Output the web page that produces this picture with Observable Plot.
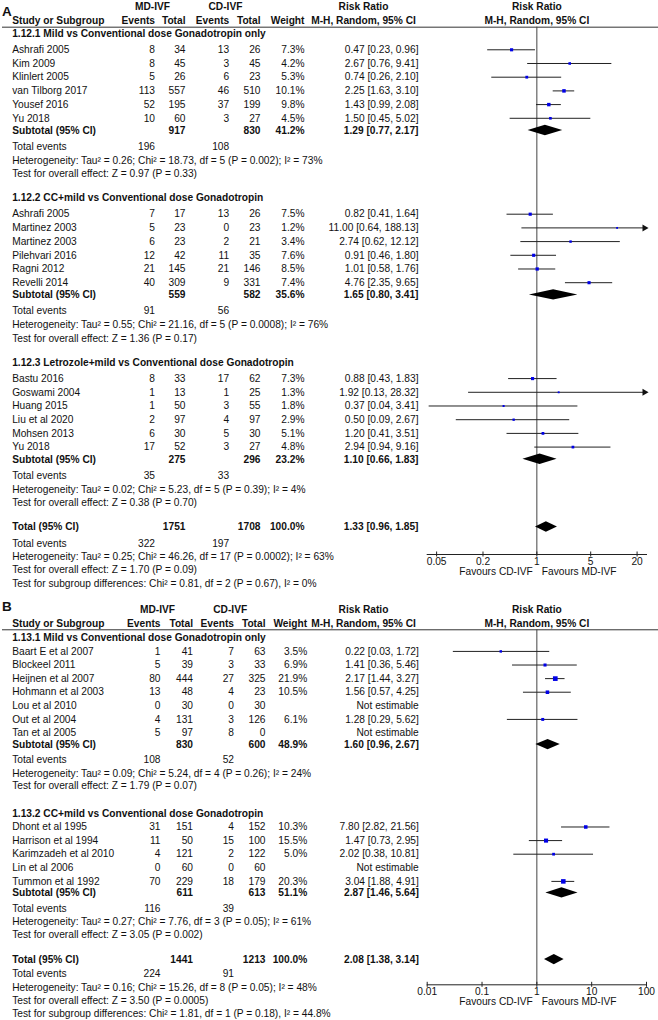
<!DOCTYPE html>
<html>
<head>
<meta charset="utf-8">
<script src="https://cdn.jsdelivr.net/npm/d3@7"></script>
<script src="https://cdn.jsdelivr.net/npm/@observablehq/plot@0.6"></script>
<style>
  html, body { margin: 0; padding: 0; background: #fff; }
  #chart { width: 658px; }
  #chart svg { display: block; }
</style>
</head>
<body>
<div id="chart"></div>
<script>
// ---------------- DATA ----------------
// Panel A
const titlesA = [
  "1.12.1 Mild vs Conventional dose Gonadotropin only",
  "1.12.2 CC+mild vs Conventional dose Gonadotropin",
  "1.12.3 Letrozole+mild vs Conventional dose Gonadotropin"
];
const studiesA1 = [
  {study: "Ashrafi 2005", mdE: 8, mdT: 34, cdE: 13, cdT: 26, w: 7.3, rr: 0.47, lo: 0.23, hi: 0.96},
  {study: "Kim 2009", mdE: 8, mdT: 45, cdE: 3, cdT: 45, w: 4.2, rr: 2.67, lo: 0.76, hi: 9.41},
  {study: "Klinlert 2005", mdE: 5, mdT: 26, cdE: 6, cdT: 23, w: 5.3, rr: 0.74, lo: 0.26, hi: 2.10},
  {study: "van Tilborg 2017", mdE: 113, mdT: 557, cdE: 46, cdT: 510, w: 10.1, rr: 2.25, lo: 1.63, hi: 3.10},
  {study: "Yousef 2016", mdE: 52, mdT: 195, cdE: 37, cdT: 199, w: 9.8, rr: 1.43, lo: 0.99, hi: 2.08},
  {study: "Yu 2018", mdE: 10, mdT: 60, cdE: 3, cdT: 27, w: 4.5, rr: 1.50, lo: 0.45, hi: 5.02}
];
const studiesA2 = [
  {study: "Ashrafi 2005", mdE: 7, mdT: 17, cdE: 13, cdT: 26, w: 7.5, rr: 0.82, lo: 0.41, hi: 1.64},
  {study: "Martinez 2003", mdE: 5, mdT: 23, cdE: 0, cdT: 23, w: 1.2, rr: 11.00, lo: 0.64, hi: 188.13},
  {study: "Martinez 2003", mdE: 6, mdT: 23, cdE: 2, cdT: 21, w: 3.4, rr: 2.74, lo: 0.62, hi: 12.12},
  {study: "Pilehvari 2016", mdE: 12, mdT: 42, cdE: 11, cdT: 35, w: 7.6, rr: 0.91, lo: 0.46, hi: 1.80},
  {study: "Ragni 2012", mdE: 21, mdT: 145, cdE: 21, cdT: 146, w: 8.5, rr: 1.01, lo: 0.58, hi: 1.76},
  {study: "Revelli 2014", mdE: 40, mdT: 309, cdE: 9, cdT: 331, w: 7.4, rr: 4.76, lo: 2.35, hi: 9.65}
];
const studiesA3 = [
  {study: "Bastu 2016", mdE: 8, mdT: 33, cdE: 17, cdT: 62, w: 7.3, rr: 0.88, lo: 0.43, hi: 1.83},
  {study: "Goswami 2004", mdE: 1, mdT: 13, cdE: 1, cdT: 25, w: 1.3, rr: 1.92, lo: 0.13, hi: 28.32},
  {study: "Huang 2015", mdE: 1, mdT: 50, cdE: 3, cdT: 55, w: 1.8, rr: 0.37, lo: 0.04, hi: 3.41},
  {study: "Liu et al 2020", mdE: 2, mdT: 97, cdE: 4, cdT: 97, w: 2.9, rr: 0.50, lo: 0.09, hi: 2.67},
  {study: "Mohsen 2013", mdE: 6, mdT: 30, cdE: 5, cdT: 30, w: 5.1, rr: 1.20, lo: 0.41, hi: 3.51},
  {study: "Yu 2018", mdE: 17, mdT: 52, cdE: 3, cdT: 27, w: 4.8, rr: 2.94, lo: 0.94, hi: 9.16}
];
const subtotalsA = [
  {mdT: 917, cdT: 830, w: 41.2, rr: 1.29, lo: 0.77, hi: 2.17},
  {mdT: 559, cdT: 582, w: 35.6, rr: 1.65, lo: 0.80, hi: 3.41},
  {mdT: 275, cdT: 296, w: 23.2, rr: 1.10, lo: 0.66, hi: 1.83}
];
const eventsA = [[196, 108], [91, 56], [35, 33]];
const heterogeneityA = [
  "Heterogeneity: Tau² = 0.26; Chi² = 18.73, df = 5 (P = 0.002); I² = 73%",
  "Heterogeneity: Tau² = 0.55; Chi² = 21.16, df = 5 (P = 0.0008); I² = 76%",
  "Heterogeneity: Tau² = 0.02; Chi² = 5.23, df = 5 (P = 0.39); I² = 4%"
];
const effectA = [
  "Test for overall effect: Z = 0.97 (P = 0.33)",
  "Test for overall effect: Z = 1.36 (P = 0.17)",
  "Test for overall effect: Z = 0.38 (P = 0.70)"
];
const totalA = {mdT: 1751, cdT: 1708, w: 100.0, rr: 1.33, lo: 0.96, hi: 1.85};
const totalEventsA = [322, 197];
const totalTextsA = [
  "Heterogeneity: Tau² = 0.25; Chi² = 46.26, df = 17 (P = 0.0002); I² = 63%",
  "Test for overall effect: Z = 1.70 (P = 0.09)",
  "Test for subgroup differences: Chi² = 0.81, df = 2 (P = 0.67), I² = 0%"
];
const ticksA = [0.05, 0.2, 1, 5, 20];

// Panel B
const titlesB = [
  "1.13.1 Mild vs Conventional dose Gonadotropin only",
  "1.13.2 CC+mild vs Conventional dose Gonadotropin"
];
const studiesB1 = [
  {study: "Baart E et al 2007", mdE: 1, mdT: 41, cdE: 7, cdT: 63, w: 3.5, rr: 0.22, lo: 0.03, hi: 1.72},
  {study: "Blockeel 2011", mdE: 5, mdT: 39, cdE: 3, cdT: 33, w: 6.9, rr: 1.41, lo: 0.36, hi: 5.46},
  {study: "Heijnen et al 2007", mdE: 80, mdT: 444, cdE: 27, cdT: 325, w: 21.9, rr: 2.17, lo: 1.44, hi: 3.27},
  {study: "Hohmann et al 2003", mdE: 13, mdT: 48, cdE: 4, cdT: 23, w: 10.5, rr: 1.56, lo: 0.57, hi: 4.25},
  {study: "Lou et al 2010", mdE: 0, mdT: 30, cdE: 0, cdT: 30, w: null, rr: null, lo: null, hi: null},
  {study: "Out et al 2004", mdE: 4, mdT: 131, cdE: 3, cdT: 126, w: 6.1, rr: 1.28, lo: 0.29, hi: 5.62},
  {study: "Tan et al 2005", mdE: 5, mdT: 97, cdE: 8, cdT: 0, w: null, rr: null, lo: null, hi: null}
];
const studiesB2 = [
  {study: "Dhont et al 1995", mdE: 31, mdT: 151, cdE: 4, cdT: 152, w: 10.3, rr: 7.80, lo: 2.82, hi: 21.56},
  {study: "Harrison et al 1994", mdE: 11, mdT: 50, cdE: 15, cdT: 100, w: 15.5, rr: 1.47, lo: 0.73, hi: 2.95},
  {study: "Karimzadeh et al 2010", mdE: 4, mdT: 121, cdE: 2, cdT: 122, w: 5.0, rr: 2.02, lo: 0.38, hi: 10.81},
  {study: "Lin et al 2006", mdE: 0, mdT: 60, cdE: 0, cdT: 60, w: null, rr: null, lo: null, hi: null},
  {study: "Tummon et al 1992", mdE: 70, mdT: 229, cdE: 18, cdT: 179, w: 20.3, rr: 3.04, lo: 1.88, hi: 4.91}
];
const subtotalsB = [
  {mdT: 830, cdT: 600, w: 48.9, rr: 1.60, lo: 0.96, hi: 2.67},
  {mdT: 611, cdT: 613, w: 51.1, rr: 2.87, lo: 1.46, hi: 5.64}
];
const eventsB = [[108, 52], [116, 39]];
const heterogeneityB = [
  "Heterogeneity: Tau² = 0.09; Chi² = 5.24, df = 4 (P = 0.26); I² = 24%",
  "Heterogeneity: Tau² = 0.27; Chi² = 7.76, df = 3 (P = 0.05); I² = 61%"
];
const effectB = [
  "Test for overall effect: Z = 1.79 (P = 0.07)",
  "Test for overall effect: Z = 3.05 (P = 0.002)"
];
const totalB = {mdT: 1441, cdT: 1213, w: 100.0, rr: 2.08, lo: 1.38, hi: 3.14};
const totalEventsB = [224, 91];
const totalTextsB = [
  "Heterogeneity: Tau² = 0.16; Chi² = 15.26, df = 8 (P = 0.05); I² = 48%",
  "Test for overall effect: Z = 3.50 (P = 0.0005)",
  "Test for subgroup differences: Chi² = 1.81, df = 1 (P = 0.18), I² = 44.8%"
];
const ticksB = [0.01, 0.1, 1, 10, 100];

// ---------------- LAYOUT ----------------
const FONT = "'Liberation Sans', Arial, Helvetica, sans-serif";
const INK = "#111";
const FS = 10.2;
const fmt2 = d3.format(".2f"), fmt1 = d3.format(".1f"), fmtTick = d3.format("~g");
const ciText = d => d.rr == null ? "Not estimable" : `${fmt2(d.rr)} [${fmt2(d.lo)}, ${fmt2(d.hi)}]`;

function buildRows(P) {
  const G = P.gaps;
  const cells = [], studies = [], pooled = [], forestHead = [];
  const add = (y, col, text, bold = false) => {
    if (text !== null && text !== undefined && text !== "") cells.push({y, col, text: String(text), bold});
  };
  let y = 0;
  add(y + P.labelShift, "label", P.label, true);
  add(y, "mdHead", "MD-IVF", true);
  add(y, "cdHead", "CD-IVF", true);
  add(y, "rrHead", "Risk Ratio", true);
  forestHead.push({y, text: "Risk Ratio"});
  y += G.head2;
  add(y, "name", "Study or Subgroup", true);
  add(y, "mdE", "Events", true); add(y, "mdT", "Total", true);
  add(y, "cdE", "Events", true); add(y, "cdT", "Total", true);
  add(y, "w", "Weight", true);
  add(y, "rrHead", "M-H, Random, 95% CI", true);
  forestHead.push({y, text: "M-H, Random, 95% CI"});
  y += G.line;
  const lineRow = y;
  P.sections.forEach((s, i) => {
    y += i === 0 ? G.title : G.section;
    add(y, "name", s.title, true);
    s.studies.forEach((d, j) => {
      y += j === 0 ? G.first : 1;
      add(y, "name", d.study);
      add(y, "mdE", d.mdE); add(y, "mdT", d.mdT);
      add(y, "cdE", d.cdE); add(y, "cdT", d.cdT);
      if (d.w != null) add(y, "w", fmt1(d.w) + "%");
      add(y, "ci", ciText(d));
      if (d.rr != null) studies.push({...d, y});
    });
    y += G.subtotal;
    add(y, "name", "Subtotal (95% CI)", true);
    add(y, "mdT", s.subtotal.mdT, true); add(y, "cdT", s.subtotal.cdT, true);
    add(y, "w", fmt1(s.subtotal.w) + "%", true);
    add(y, "ci", ciText(s.subtotal), true);
    pooled.push({...s.subtotal, y, id: "s" + i});
    y += G.events;
    add(y, "name", "Total events");
    add(y, "mdE", s.events[0]); add(y, "cdE", s.events[1]);
    y += G.het; add(y, "name", s.het);
    y += G.test; add(y, "name", s.test);
  });
  y += G.total;
  add(y, "name", "Total (95% CI)", true);
  add(y, "mdT", P.total.mdT, true); add(y, "cdT", P.total.cdT, true);
  add(y, "w", fmt1(P.total.w) + "%", true);
  add(y, "ci", ciText(P.total), true);
  pooled.push({...P.total, y, id: "total"});
  y += G.totalEvents;
  add(y, "name", "Total events");
  add(y, "mdE", P.totalEvents[0]); add(y, "cdE", P.totalEvents[1]);
  P.totalTexts.forEach(t => { y += G.tail; add(y, "name", t); });
  return {cells, studies, pooled, forestHead, lineRow};
}

function panelPlot(P) {
  const R = buildRows(P);
  const xMax = P.xDomain[1];
  const h = 0.38;
  const frameH = P.height - P.mt - P.mb;
  const diamonds = R.pooled.flatMap(p => [
    {id: p.id, x: p.lo, y1: p.y, y2: p.y},
    {id: p.id, x: p.rr, y1: p.y - h, y2: p.y + h},
    {id: p.id, x: p.hi, y1: p.y, y2: p.y}
  ]);
  const clipped = R.studies.filter(d => d.hi > xMax);

  const textMarks = Object.entries(P.cols).flatMap(([col, [px, anchor]]) =>
    [false, true].map(bold => Plot.text(
      R.cells.filter(c => c.col === col && c.bold === bold),
      {
        y: "y", text: "text", frameAnchor: "left", dx: px - P.ml,
        textAnchor: anchor, fontWeight: bold ? "bold" : "normal",
        fontSize: col === "label" ? 13.5 : FS, fill: INK
      }
    ))
  );

  return Plot.plot({
    width: 658,
    height: P.height,
    marginLeft: P.ml, marginRight: P.mr, marginTop: P.mt, marginBottom: P.mb,
    style: {fontFamily: FONT, fontSize: FS + "px", color: INK, background: "#fff", overflow: "visible"},
    x: {type: "log", domain: P.xDomain, axis: null},
    y: {type: "linear", domain: [0, 1], range: [P.y0, P.y0 + P.u], axis: null},
    r: {type: "sqrt", domain: [1, 21.9], range: [1, 2.64]},
    marks: [
      // header rule across the full width
      Plot.ruleY([R.lineRow], {stroke: "#333", strokeWidth: 1, insetLeft: -(P.ml - 2), insetRight: -P.mr}),
      // line of no effect
      Plot.ruleX([1], {stroke: "#444", strokeWidth: 1}),
      // axis line, ticks and tick labels
      Plot.frame({anchor: "bottom", stroke: "#222"}),
      Plot.ruleX(P.ticks, {x: d => d, stroke: "#222", insetTop: frameH - 2.5, insetBottom: -2.5}),
      Plot.text(P.ticks, {x: d => d, frameAnchor: "bottom", dy: 10, text: fmtTick, fontSize: FS, fill: INK}),
      Plot.text([1], {x: d => d, frameAnchor: "bottom", dy: P.favDy, text: () => "Favours CD-IVF",
                      textAnchor: "end", dx: -4, fontSize: FS, fill: INK}),
      Plot.text([1], {x: d => d, frameAnchor: "bottom", dy: P.favDy, text: () => "Favours MD-IVF",
                      textAnchor: "start", dx: 5, fontSize: FS, fill: INK}),
      // forest column headers
      Plot.text(R.forestHead, {x: () => 1, y: "y", text: "text", fontWeight: "bold", fontSize: FS, fill: INK}),
      // confidence intervals
      Plot.ruleY(R.studies, {y: "y", x1: "lo", x2: d => Math.min(d.hi, xMax), stroke: "#222", strokeWidth: 1}),
      Plot.dot(clipped, {x: () => xMax, y: "y", symbol: "triangle", rotate: 90, r: 2.6, dx: -2, fill: "#111", stroke: null}),
      // study squares
      Plot.dot(R.studies, {x: "rr", y: "y", r: "w", symbol: "square", fill: "#0000e6", stroke: null}),
      // pooled diamonds
      Plot.areaY(diamonds, {x: "x", y1: "y1", y2: "y2", z: "id", fill: "#000", curve: "linear"}),
      ...textMarks
    ]
  });
}

const panelA = {
  label: "A",
  sections: titlesA.map((t, i) => ({
    title: t, studies: [studiesA1, studiesA2, studiesA3][i], subtotal: subtotalsA[i],
    events: eventsA[i], het: heterogeneityA[i], test: effectA[i]
  })),
  total: totalA, totalEvents: totalEventsA, totalTexts: totalTextsA,
  xDomain: [1 / 26.5, 26.5], ticks: ticksA,
  height: 590, ml: 426.7, mr: 12, mt: 26.7, mb: 36,
  y0: 6, u: 13.7, labelShift: 0.35, favDy: 20,
  gaps: {head2: 1.07, line: 0.44, title: 0.48, first: 1.17, subtotal: 0.89, events: 1.17,
         het: 1.02, test: 0.98, section: 1.77, total: 1.77, totalEvents: 1.2, tail: 0.975},
  cols: {
    label: [1.5, "start"], name: [11.7, "start"],
    mdE: [154.5, "end"], mdT: [185, "end"], cdE: [228.7, "end"], cdT: [260, "end"],
    w: [304, "end"], ci: [418, "end"],
    mdHead: [152, "middle"], cdHead: [225, "middle"], rrHead: [363, "middle"]
  }
};

const panelB = {
  label: "B",
  sections: titlesB.map((t, i) => ({
    title: t, studies: [studiesB1, studiesB2][i], subtotal: subtotalsB[i],
    events: eventsB[i], het: heterogeneityB[i], test: effectB[i]
  })),
  total: totalB, totalEvents: totalEventsB, totalTexts: totalTextsB,
  xDomain: [0.01, 100], ticks: ticksB,
  height: 430, ml: 426.7, mr: 12, mt: 39.3, mb: 35.7,
  y0: 19.3, u: 13.6, labelShift: -0.2, favDy: 20.5,
  gaps: {head2: 1.03, line: 0.44, title: 0.59, first: 1.0, subtotal: 0.85, events: 1.13,
         het: 0.98, test: 0.95, section: 2.0, total: 1.84, totalEvents: 1.06, tail: 0.98},
  cols: {
    label: [1.5, "start"], name: [11.7, "start"],
    mdE: [160, "end"], mdT: [192.5, "end"], cdE: [233.5, "end"], cdT: [265, "end"],
    w: [306.7, "end"], ci: [418.3, "end"],
    mdHead: [157, "middle"], cdHead: [229.7, "middle"], rrHead: [363, "middle"]
  }
};

const chart = document.getElementById("chart");
chart.appendChild(panelPlot(panelA));
chart.appendChild(panelPlot(panelB));
</script>
</body>
</html>
